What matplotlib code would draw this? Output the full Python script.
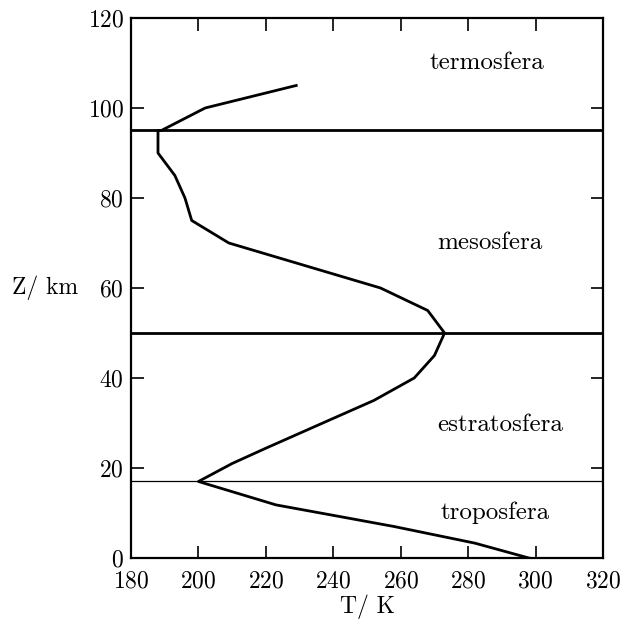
import matplotlib
matplotlib.use("Agg")
import matplotlib.pyplot as plt

plt.rcParams['font.family'] = ['cmr10', 'DejaVu Serif']
plt.rcParams['axes.formatter.use_mathtext'] = True

# Temperature profile (T in K, Z in km)
temp_K = [298, 282, 258, 242, 223, 200, 210, 220, 239, 252, 264, 270, 273, 268, 254, 209, 198, 196, 193, 188, 188, 189, 202, 229]
alt_km = [0, 3.3, 7, 9.2, 11.8, 17, 21, 24.4, 30.7, 35, 40, 45, 50, 55, 60, 70, 75, 80, 85, 90, 95, 95, 100, 105]

# Layer boundaries
bound_km = [95, 50, 17]
bound_lw = [2.0, 2.0, 0.9]

layer_names = ["termosfera", "mesosfera", "estratosfera", "troposfera"]
layer_T = [285.5, 286.5, 289.5, 288]
layer_Z = [110, 70, 29.5, 10]

fig = plt.figure(figsize=(6.29, 6.2), dpi=100)
ax = fig.add_axes([0.2083, 0.1, 0.7504, 0.871])

ax.plot(temp_K, alt_km, color='black', lw=2.0)
for z, lw in zip(bound_km, bound_lw):
    ax.axhline(z, color='black', lw=lw)

for name, t, z in zip(layer_names, layer_T, layer_Z):
    ax.text(t, z, name, ha='center', va='center', fontsize=18)

ax.set_xlim(180, 320)
ax.set_ylim(0, 120)
ax.set_xticks(range(180, 321, 20))
ax.set_yticks(range(0, 121, 20))
ax.tick_params(direction='in', top=True, right=True, length=9, width=1.2, labelsize=17)
ax.tick_params(axis='x', pad=9)
ax.tick_params(axis='y', pad=5)
for s in ax.spines.values():
    s.set_linewidth(1.6)

ax.set_xlabel("T/ K", fontsize=17, labelpad=1)
ax.set_ylabel("Z/ km", fontsize=17, rotation=0, ha='center', va='center')
ax.yaxis.set_label_coords(-0.182, 0.5)

fig.savefig("out.png", dpi=100)
